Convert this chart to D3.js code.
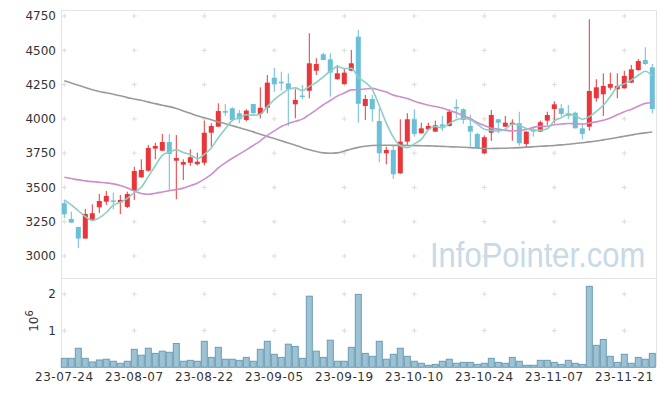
<!DOCTYPE html>
<html><head><meta charset="utf-8">
<script src="https://cdn.jsdelivr.net/npm/d3@7"></script>
<style>body{margin:0;background:#fff}svg{display:block}</style>
</head><body><svg id="c" width="665" height="396"></svg>
<script>
const dates = ["23-07-24","23-07-25","23-07-26","23-07-27","23-07-28","23-07-31","23-08-01","23-08-02","23-08-03","23-08-04",
"23-08-07","23-08-08","23-08-09","23-08-10","23-08-11","23-08-14","23-08-16","23-08-17","23-08-18","23-08-21",
"23-08-22","23-08-23","23-08-24","23-08-25","23-08-28","23-08-29","23-08-30","23-08-31","23-09-01","23-09-04",
"23-09-05","23-09-06","23-09-07","23-09-08","23-09-11","23-09-12","23-09-13","23-09-14","23-09-15","23-09-18",
"23-09-19","23-09-20","23-09-21","23-09-22","23-09-25","23-09-26","23-09-27","23-10-04","23-10-05","23-10-06",
"23-10-10","23-10-11","23-10-12","23-10-13","23-10-16","23-10-17","23-10-18","23-10-19","23-10-20","23-10-23",
"23-10-24","23-10-25","23-10-26","23-10-27","23-10-30","23-10-31","23-11-01","23-11-02","23-11-03","23-11-06",
"23-11-07","23-11-08","23-11-09","23-11-10","23-11-13","23-11-14","23-11-15","23-11-16","23-11-17","23-11-20",
"23-11-21","23-11-22","23-11-23","23-11-24","23-11-27"];
const open = [3385,3270,3212,3127,3263,3355,3396,3405,3390,3358,3474,3574,3622,3783,3768,3831,3695,3666,3680,3669,
3680,3899,3943,4057,4077,4041,3992,4108,4036,4081,4300,4271,4259,4106,4170,4205,4351,4471,4434,4289,
4254,4351,4599,4094,4145,3985,3749,3773,3603,3834,3997,3895,3924,3907,3960,3948,4087,4070,3948,3890,
3749,3899,3997,3943,3960,3968,3817,3924,3907,3987,4072,4077,4041,4045,3931,3943,4150,4179,4227,4216,
4223,4264,4356,4429,4376];
const high = [3409,3323,3212,3343,3377,3452,3474,3462,3445,3469,3651,3705,3810,3826,3890,3890,3882,3705,3778,3754,
3987,3968,4114,4108,4085,4065,4070,4110,4230,4320,4373,4344,4332,4216,4247,4624,4442,4480,4478,4393,
4369,4502,4648,4174,4174,4077,3797,3804,3997,4041,4070,3972,3972,3987,4021,4070,4143,4077,4030,3899,
3880,4065,3999,4021,3997,4052,3910,3939,3987,4052,4128,4108,4101,4052,3968,4726,4289,4332,4337,4332,
4351,4393,4437,4522,4400];
const low = [3277,3243,3059,3127,3255,3314,3372,3340,3305,3350,3409,3570,3615,3705,3765,3481,3414,3554,3657,3660,
3661,3797,3940,4021,3990,3968,3982,4036,4004,4041,4198,4205,3948,4004,4143,4150,4320,4429,4162,4285,
4250,4348,3972,3992,3980,3683,3669,3562,3600,3802,3870,3893,3920,3905,3912,3945,4004,3963,3797,3784,
3744,3839,3895,3940,3841,3805,3797,3870,3905,3955,3968,4021,3997,3931,3851,3914,4125,4021,4211,4150,
4220,4262,4351,4393,4041];
const close = [3304,3243,3127,3307,3312,3401,3438,3398,3409,3452,3620,3627,3788,3802,3831,3744,3715,3685,3720,3688,
3899,3948,4057,4045,3992,3997,4060,4041,4081,4264,4254,4259,4216,4138,4165,4405,4400,4429,4337,4332,
4337,4405,4110,4145,4070,3749,3773,3596,3834,3997,3890,3931,3948,3953,3943,4052,4075,3992,3907,3786,
3866,4028,3972,3972,3972,3822,3907,3907,3975,4028,4106,4036,4021,3931,3890,4203,4230,4240,4254,4240,
4313,4361,4422,4400,4072];
const volume = [245000,245000,520000,245000,145000,200000,220000,165000,110000,165000,490000,330000,520000,380000,440000,410000,650000,165000,190000,165000,
710000,270000,545000,220000,220000,190000,270000,165000,490000,710000,355000,270000,630000,570000,245000,1940000,440000,270000,740000,165000,
165000,545000,1990000,380000,300000,710000,220000,355000,520000,300000,165000,110000,55000,80000,165000,220000,110000,135000,135000,80000,
110000,245000,135000,110000,270000,165000,55000,55000,190000,190000,135000,80000,190000,110000,80000,2210000,600000,760000,300000,135000,
355000,110000,270000,220000,380000];
const ma5 = [3409,3372,3330,3287,3259,3278,3317,3371,3392,3420,3463,3501,3579,3658,3734,3758,3776,3755,3739,3710,
3741,3788,3862,3927,3988,4008,4030,4027,4034,4089,4140,4180,4215,4226,4206,4237,4265,4307,4347,4381,
4367,4368,4304,4266,4213,4096,3969,3867,3804,3790,3818,3850,3920,3944,3933,3965,3994,4003,3994,3962,
3925,3916,3912,3925,3962,3953,3929,3916,3917,3928,3985,4010,4033,4024,3997,4016,4055,4099,4163,4233,
4255,4282,4318,4347,4314];
const ma20 = [3574,3565,3555,3548,3542,3537,3533,3526,3514,3496,3474,3456,3450,3458,3467,3476,3484,3495,3513,3531,
3560,3596,3642,3679,3713,3743,3774,3806,3840,3880,3912,3944,3965,3982,3998,4031,4066,4103,4134,4166,
4188,4211,4213,4218,4222,4210,4195,4173,4161,4148,4129,4113,4099,4090,4079,4061,4045,4023,4002,3974,
3951,3932,3925,3917,3912,3915,3922,3938,3945,3946,3957,3962,3966,3965,3962,3970,3978,3990,4007,4030,
4052,4069,4092,4113,4118];
const ma120 = [4278,4262,4245,4228,4212,4200,4190,4180,4168,4155,4145,4135,4122,4111,4099,4089,4075,4058,4040,4022,
4008,3993,3978,3965,3950,3935,3920,3905,3888,3872,3856,3840,3824,3808,3790,3775,3762,3752,3749,3752,
3765,3780,3792,3800,3806,3808,3808,3807,3807,3806,3805,3804,3803,3801,3799,3797,3795,3793,3790,3787,
3784,3784,3785,3786,3788,3790,3794,3797,3800,3803,3806,3810,3815,3820,3826,3832,3839,3847,3855,3864,
3873,3882,3891,3898,3904];
const priceTicks = [3000,3250,3500,3750,4000,4250,4500,4750];
const volTicks = [1000000,2000000];
const volTickLabels = ["1","2"];
const xTickIdx = [0,10,20,30,40,50,60,70,80];

const svg = d3.select("#c");
const L = 61, R = 656, T = 10, MB = 278, VB = 367.3;
const font = "'DejaVu Sans', sans-serif";
const x = d3.scaleBand().domain(dates).range([60.8, 655.8]).padding(0);
const cx = d => x(d) + x.bandwidth()/2;
const y = d3.scaleLinear().domain([3000, 4750]).range([256, 16]);
const yv = d3.scaleLinear().domain([0, 2000000]).range([VB, 294]);

const defs = svg.append("defs");
defs.append("clipPath").attr("id","mainClip").append("rect").attr("x",L).attr("y",T).attr("width",R-L).attr("height",MB-T);

// grid crosses
const gx = xTickIdx.map(i => cx(dates[i]));
const crossY = priceTicks.map(v => y(v)).concat(volTicks.map(v => yv(v)));
const grid = svg.append("g").attr("stroke","#dcdcdc").attr("stroke-width",1);
gx.forEach(px => crossY.forEach(py => {
  grid.append("path").attr("d",`M${px-2.5},${py}H${px+2.5}M${px},${py-2.5}V${py+2.5}`);
}));

// frame
const frame = svg.append("g").attr("stroke","#e4e4e4").attr("stroke-width",1).attr("shape-rendering","crispEdges");
frame.append("line").attr("x1",L).attr("x2",R).attr("y1",T).attr("y2",T);
frame.append("line").attr("x1",L).attr("x2",R).attr("y1",MB).attr("y2",MB);
frame.append("line").attr("x1",L).attr("x2",L).attr("y1",T).attr("y2",VB);
frame.append("line").attr("x1",R).attr("x2",R).attr("y1",T).attr("y2",VB);

// watermark
svg.append("text").attr("transform","translate(430,267) scale(1,1.12)")
  .attr("font-family","'Liberation Sans', Arial, sans-serif")
  .attr("font-size",31).attr("fill","#c8dae6")
  .text("InfoPointer.com");

// candles
const data = dates.map((d,i)=>({d,o:open[i],h:high[i],l:low[i],c:close[i],v:volume[i]}));
const main = svg.append("g").attr("clip-path","url(#mainClip)");
const up = "#e8363b", down = "#6bbfd8";
const cg = main.append("g");
cg.selectAll("line.w").data(data).join("line")
  .attr("x1",d=>cx(d.d)).attr("x2",d=>cx(d.d)).attr("y1",d=>y(d.h)).attr("y2",d=>y(d.l))
  .attr("stroke",d=>d.c>=d.o?up:down).attr("stroke-width",1);
cg.selectAll("rect.b").data(data).join("rect")
  .attr("x",d=>cx(d.d)-2.5).attr("width",5)
  .attr("y",d=>y(Math.max(d.o,d.c))).attr("height",d=>Math.max(1.5, Math.abs(y(d.o)-y(d.c))))
  .attr("fill",d=>d.c>=d.o?up:down);

// moving averages
const lineGen = arr => d3.line().x((v,i)=>cx(dates[i])).y(v=>y(v)).curve(d3.curveMonotoneX)(arr);
main.append("path").attr("d",lineGen(ma120)).attr("fill","none").attr("stroke","#9a9a9a").attr("stroke-width",1.6);
main.append("path").attr("d",lineGen(ma20)).attr("fill","none").attr("stroke","#cc8fcc").attr("stroke-width",1.6);
main.append("path").attr("d",lineGen(ma5)).attr("fill","none").attr("stroke","#8ccfc4").attr("stroke-width",1.6);

// volume bars
svg.append("g").selectAll("rect").data(data).join("rect")
  .attr("x",d=>x(d.d)+0.5).attr("width",x.bandwidth()-1)
  .attr("y",d=>yv(d.v)).attr("height",d=>VB-yv(d.v))
  .attr("fill","#9cc2d3").attr("stroke","#6b9cb5").attr("stroke-width",1);

// axes
const ya = svg.append("g").attr("transform",`translate(${L},0)`)
  .call(d3.axisLeft(y).tickValues(priceTicks).tickFormat(d3.format("d")).tickSize(0).tickPadding(5));
const yva = svg.append("g").attr("transform",`translate(${L},0)`)
  .call(d3.axisLeft(yv).tickValues(volTicks).tickFormat((v,i)=>volTickLabels[i]).tickSize(0).tickPadding(5));
const xa = svg.append("g").attr("transform",`translate(0,${VB})`)
  .call(d3.axisBottom(x).tickValues(xTickIdx.map(i=>dates[i])).tickSize(0).tickPadding(5));
[ya,yva,xa].forEach(g=>{
  g.select(".domain").remove();
  g.selectAll("text").attr("font-family",font).attr("font-size",12).attr("fill","#333");
});
xa.selectAll("text").attr("letter-spacing","0.5px");

// 10^6 label
const vl = svg.append("text").attr("transform","translate(37.5,321) rotate(-90)")
  .attr("text-anchor","middle").attr("font-family",font).attr("font-size",12).attr("fill","#333");
vl.append("tspan").text("10");
vl.append("tspan").attr("dy",-5).attr("font-size",10).text("6");
</script></body></html>
